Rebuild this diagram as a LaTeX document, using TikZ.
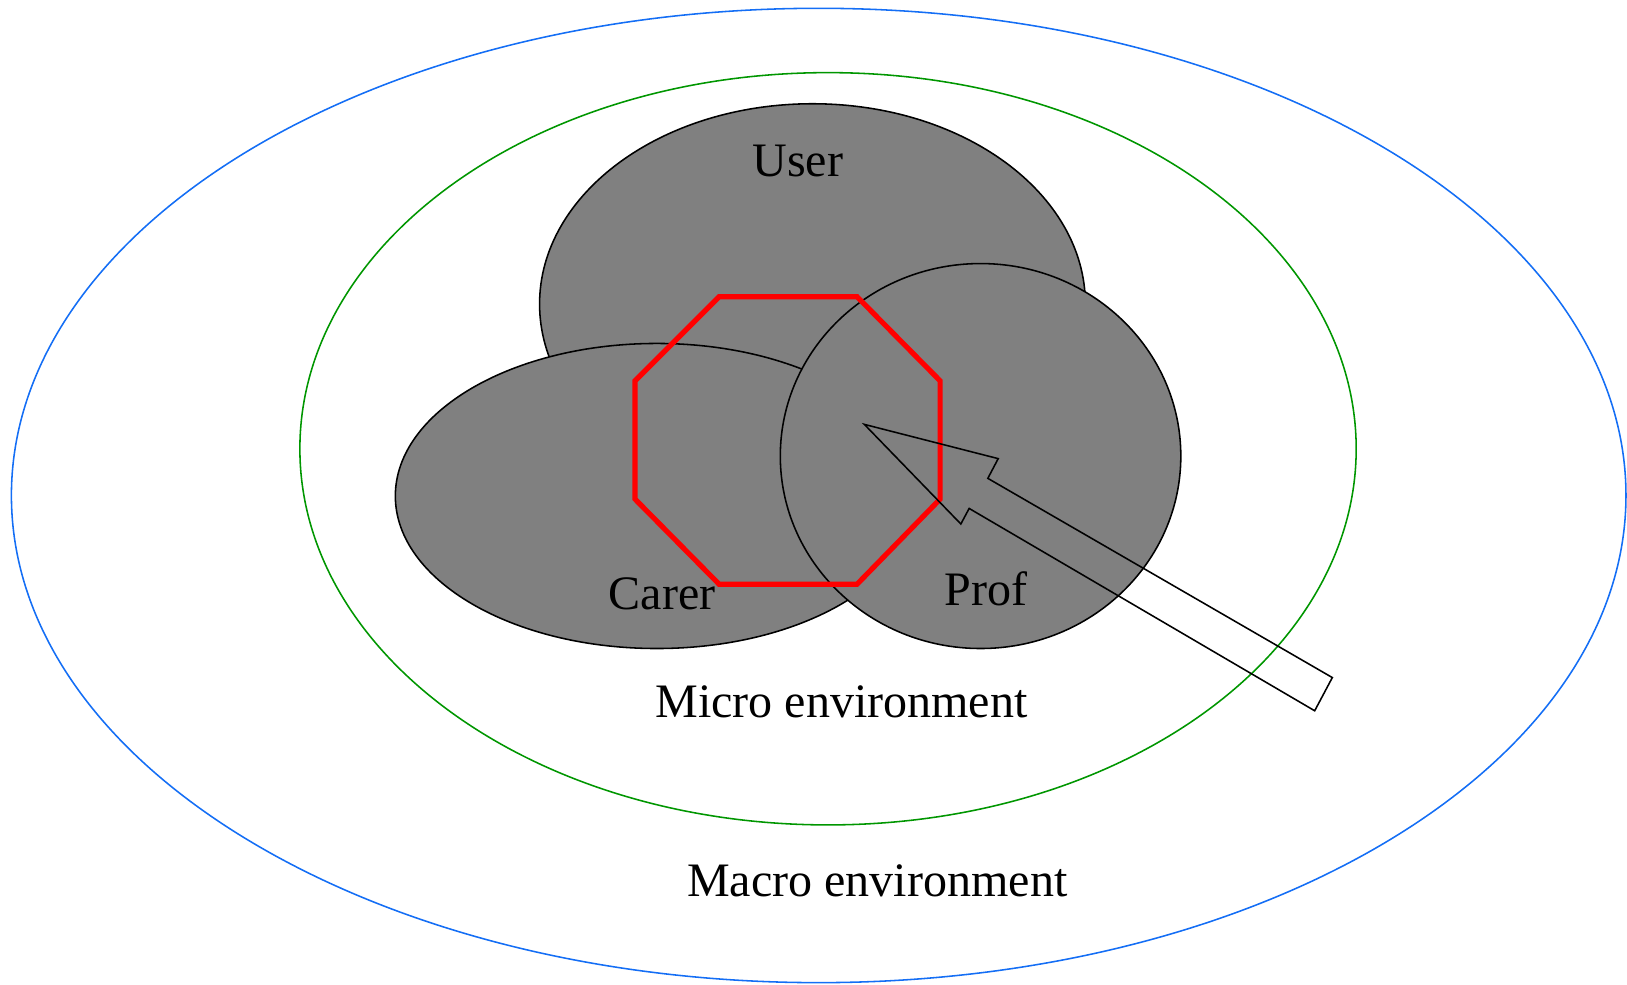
\documentclass[tikz,border=0pt]{standalone}
\usepackage{fontspec}
\setmainfont{Liberation Serif}
\usetikzlibrary{shapes.geometric}
\definecolor{macroblue}{RGB}{20,110,245}
\definecolor{microgreen}{RGB}{0,150,0}
\definecolor{blobgray}{RGB}{128,128,128}
\tikzset{
  ring/.style={ellipse, inner sep=0pt, outer sep=0pt, line width=1.5pt},
  blob/.style={ellipse, inner sep=0pt, outer sep=0pt, draw=black, fill=blobgray, line width=1.5pt},
  lbl/.style={font=\fontsize{46.3}{55}\selectfont, inner sep=0pt, anchor=base},
  octo/.style={draw=red, line width=5pt, line join=miter},
  bigarrow/.style={draw=black, line width=1.5pt, line join=miter}
}
\begin{document}
\begin{tikzpicture}[x=1pt,y=-1pt]
\useasboundingbox (0,0) rectangle (1568,949);
\node[ring, draw=macroblue, minimum width=1556pt, minimum height=939pt] (macro) at (789,477.5) {};
\node[ring, draw=microgreen, minimum width=1018pt, minimum height=725pt] (micro) at (798,432.5) {};
\node[blob, minimum width=526pt, minimum height=386pt] (userblob) at (783,293) {};
\node[blob, minimum width=504pt, minimum height=294pt] (carerblob) at (633,478) {};
\node[blob, minimum width=386pt, minimum height=371pt] (profblob) at (945,439.5) {};
\draw[octo] (693,286) -- (826,286) -- (906,367) -- (906,481) -- (826,563) -- (693,563) -- (612,481) -- (612,367) -- cycle;
\coordinate (tip) at (833,409);
\draw[bigarrow] (tip) -- (962,442) -- (952,461) -- (1284,653) -- (1267,685) -- (934,490) -- (926,505) -- cycle;
\node[lbl] (userlbl) at (769,170) {User};
\node[lbl] (carerlbl) at (638,587) {Carer};
\node[lbl] (proflbl) at (950,584) {Prof};
\node[lbl] (microlbl) at (811,691) {Micro environment};
\node[lbl] (macrolbl) at (845.5,864) {Macro environment};
\end{tikzpicture}
\end{document}
